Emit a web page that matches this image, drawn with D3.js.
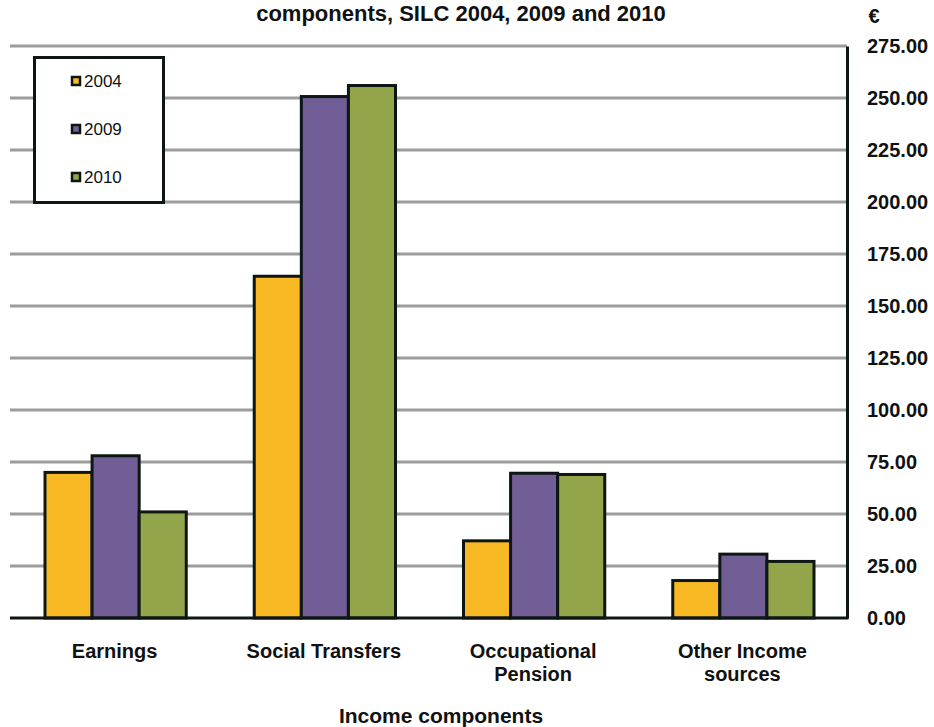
<!DOCTYPE html>
<html><head><meta charset="utf-8">
<script src="https://cdn.jsdelivr.net/npm/d3@7"></script>
<style>body{margin:0;background:#fff}svg{display:block}text{font-family:"Liberation Sans",Arial,sans-serif}</style>
</head><body><svg id="c" width="934" height="727"></svg>
<script>
const categories = [["Earnings"],["Social Transfers"],["Occupational","Pension"],["Other Income","sources"]];
const seriesNames = ["2004","2009","2010"];
const v2004 = [70.0, 164.3, 37.1, 18.0];
const v2009 = [78.0, 250.7, 69.6, 30.7];
const v2010 = [51.0, 256.0, 69.0, 27.2];
const yTicks = [0,25,50,75,100,125,150,175,200,225,250,275];
const colors = ["#F9B924","#725E96","#93A54A"];
const titleText = "components, SILC 2004, 2009 and 2010";
const xTitle = "Income components";
const unit = "€";

const svg = d3.select("#c");
const L = 10, R = 847, T = 46, B = 618;
const series = [v2004, v2009, v2010];
const y = d3.scaleLinear().domain([0,275]).range([B,T]);
const x0 = d3.scaleBand().domain(d3.range(categories.length)).range([L,R]).padding(0);
const groupW = x0.bandwidth()*0.675;
const x1 = d3.scaleBand().domain(d3.range(3)).range([0,groupW]).padding(0);

// gridlines
svg.append("g").selectAll("line").data(yTicks.filter(t=>t>0)).join("line")
  .attr("x1",L).attr("x2",R).attr("y1",d=>y(d)).attr("y2",d=>y(d))
  .attr("stroke","#9c9c9c").attr("stroke-width",3);

// bars
const g = svg.append("g").selectAll("g").data(d3.range(categories.length)).join("g")
  .attr("transform",i=>`translate(${x0(i)+(x0.bandwidth()-groupW)/2+1},0)`);
g.selectAll("rect").data(i=>series.map((s,k)=>({k,v:s[i]}))).join("rect")
  .attr("x",d=>x1(d.k)).attr("width",x1.bandwidth())
  .attr("y",d=>y(d.v)).attr("height",d=>B-y(d.v))
  .attr("fill",d=>colors[d.k]).attr("stroke","#0e1614").attr("stroke-width",3);

// baseline and right axis
svg.append("line").attr("x1",L).attr("x2",R+1.5).attr("y1",B).attr("y2",B).attr("stroke","#0e1614").attr("stroke-width",3);
const yAxis = d3.axisRight(y).tickValues(yTicks).tickFormat(d3.format(".2f")).tickSize(0).tickPadding(20);
const ya = svg.append("g").attr("transform",`translate(${R},0)`).call(yAxis);
ya.select(".domain").attr("stroke","#0e1614").attr("stroke-width",3);
ya.selectAll("text").attr("font-size",20).attr("font-weight","bold").attr("fill","#111")
  .attr("font-family","'Liberation Sans',Arial,sans-serif");

// category labels
const cl = svg.append("g").selectAll("text").data(categories).join("text")
  .attr("x",(d,i)=>x0(i)+x0.bandwidth()/2).attr("y",658)
  .attr("text-anchor","middle").attr("font-size",20).attr("font-weight","bold").attr("fill","#111");
cl.selectAll("tspan").data(d=>d).join("tspan")
  .attr("x",function(){return this.parentNode.getAttribute("x");})
  .attr("dy",(d,j)=>j?23:0).text(d=>d);

svg.append("text").attr("x",441).attr("y",723).attr("text-anchor","middle")
  .attr("font-size",21).attr("font-weight","bold").attr("fill","#111").text(xTitle);
svg.append("text").attr("x",461).attr("y",21).attr("text-anchor","middle")
  .attr("font-size",22).attr("font-weight","bold").attr("fill","#111").text(titleText);
svg.append("text").attr("x",874).attr("y",23).attr("text-anchor","middle")
  .attr("font-size",20).attr("font-weight","bold").attr("fill","#111").text(unit);

// legend
const lg = svg.append("g");
lg.append("rect").attr("x",34.5).attr("y",57.5).attr("width",129).attr("height",145)
  .attr("fill","#fff").attr("stroke","#0e1614").attr("stroke-width",3);
const li = lg.selectAll("g.it").data(seriesNames).join("g").attr("class","it")
  .attr("transform",(d,i)=>`translate(0,${81+i*48})`);
li.append("rect").attr("x",72).attr("y",-4).attr("width",8).attr("height",8)
  .attr("fill",(d,i)=>colors[i]).attr("stroke","#0e1614").attr("stroke-width",2.5);
li.append("text").attr("x",84).attr("y",6).attr("font-size",17).attr("fill","#111").text(d=>d);
</script></body></html>
